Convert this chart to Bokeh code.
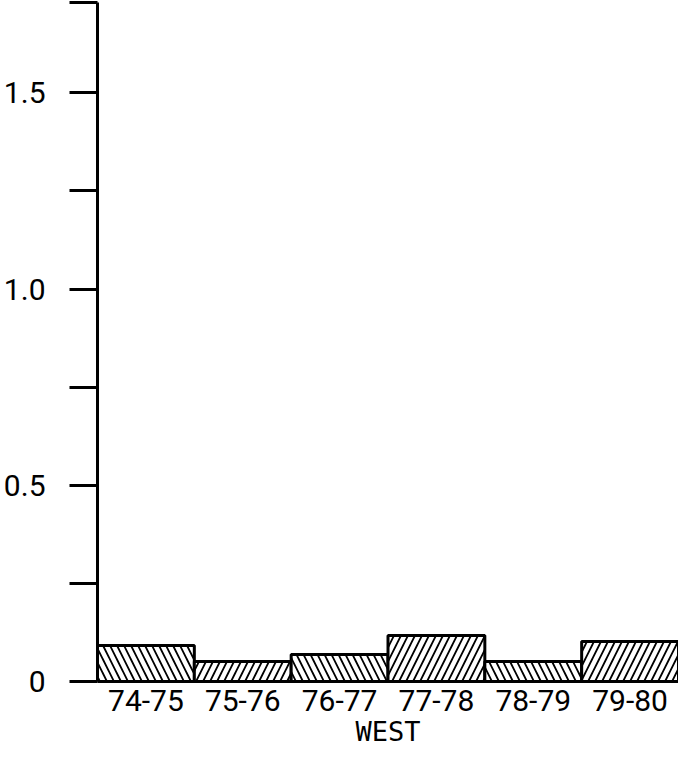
from bokeh.plotting import figure
from bokeh.models import FixedTicker, FactorRange, Range1d, ColumnDataSource
from bokeh.embed import file_html
from bokeh.resources import INLINE

# ---- data ----
seasons = ["74-75", "75-76", "76-77", "77-78", "78-79", "79-80"]
values = [0.092, 0.051, 0.069, 0.117, 0.051, 0.102]
hatches = ["\\", "/", "\\", "/", "\\", "/"]
y_major = [0, 0.5, 1.0, 1.5]
y_major_labels = ["0", "0.5", "1.0", "1.5"]
y_minor = [0.25, 0.75, 1.25, 1.73]
y_top = 1.73
region = "WEST"

src = ColumnDataSource(dict(season=seasons, value=values, hatch=hatches))

p = figure(
    x_range=FactorRange(*seasons, range_padding=0),
    y_range=Range1d(0, y_top),
    width=678, height=749,
    output_backend="svg", toolbar_location=None,
    min_border_left=96, min_border_right=0, min_border_top=2, min_border_bottom=0,
)
p.outline_line_color = None
p.xgrid.visible = False
p.ygrid.visible = False
p.background_fill_color = "white"
p.border_fill_color = "white"

p.vbar(x="season", top="value", width=1.0, source=src,
       fill_color="white", line_color="black", line_width=3,
       hatch_pattern="hatch", hatch_color="black", hatch_scale=14, hatch_weight=1.8)

ya = p.yaxis[0]
ya.ticker = FixedTicker(ticks=y_major, minor_ticks=y_minor)
ya.major_label_overrides = {t: l for t, l in zip(y_major, y_major_labels)}
ya.axis_line_width = 3
ya.major_tick_line_width = 3
ya.minor_tick_line_width = 3
ya.major_tick_out = 28
ya.major_tick_in = 0
ya.minor_tick_out = 28
ya.minor_tick_in = 0
ya.major_label_standoff = 24
ya.major_label_text_font = "Roboto"
ya.major_label_text_font_size = "30px"
ya.major_label_text_color = "black"

xa = p.xaxis[0]
xa.axis_line_width = 3
xa.major_tick_out = 0
xa.major_tick_in = 0
xa.minor_tick_out = 0
xa.minor_tick_in = 0
xa.major_label_standoff = 8
xa.major_label_text_font = "Roboto"
xa.major_label_text_font_size = "30px"
xa.major_label_text_color = "black"
xa.axis_label = region
xa.axis_label_standoff = 2
xa.axis_label_text_font = "DejaVu Sans Mono"
xa.axis_label_text_font_size = "27px"
xa.axis_label_text_font_style = "normal"
xa.axis_label_text_color = "black"

open("out.html", "w").write(file_html(p, INLINE))
